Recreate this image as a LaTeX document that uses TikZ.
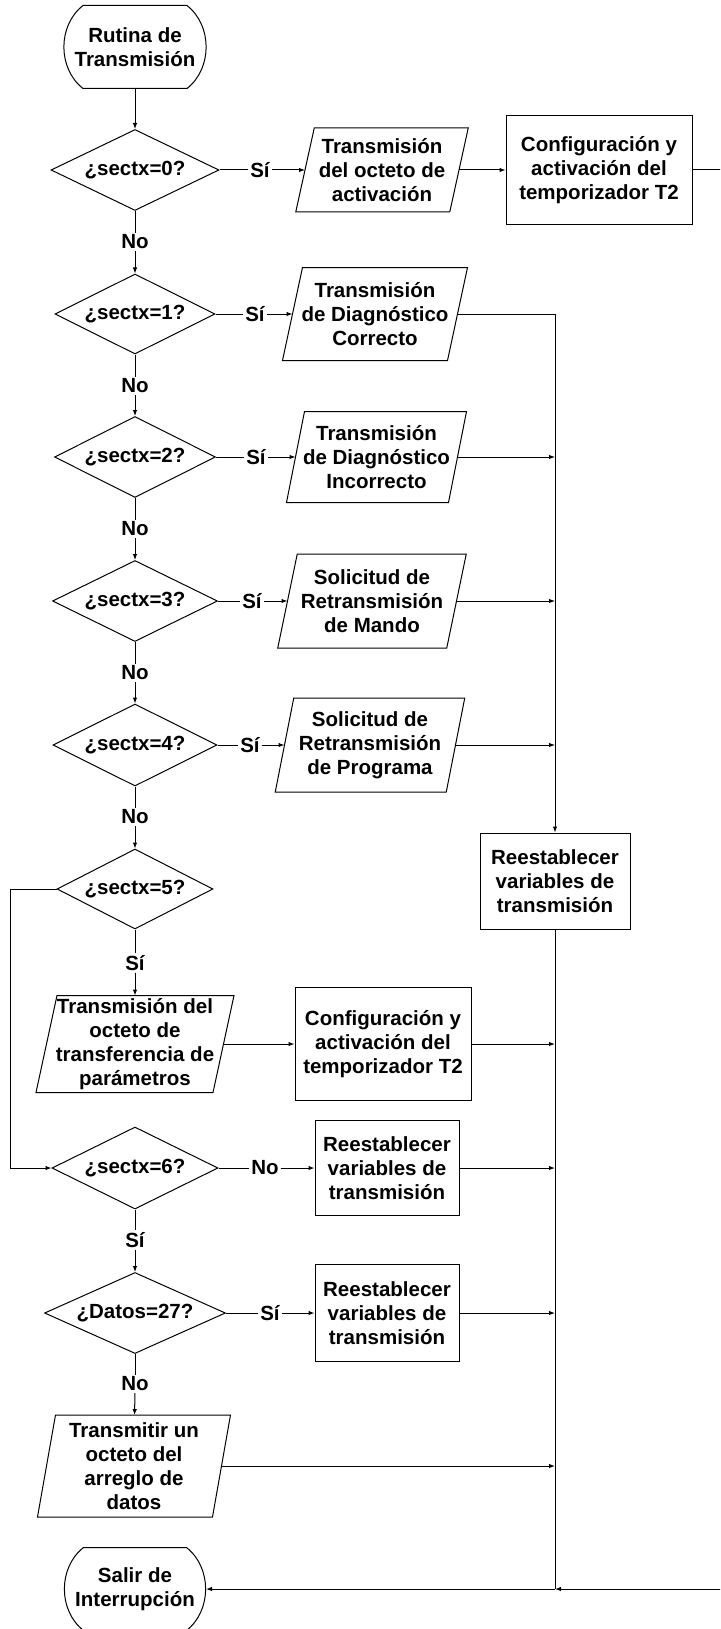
\documentclass[tikz,border=0pt]{standalone}
\usepackage{fontspec}
\setmainfont{Liberation Sans}
\usetikzlibrary{shapes.geometric,arrows.meta,calc}
\newcommand\drawpara[2]{\draw ([xshift=#2]#1.north west) -- ([xshift=#2]#1.north east) -- ([xshift=-#2]#1.south east) -- ([xshift=-#2]#1.south west) -- cycle;}
\newcommand\drawterm[2]{\draw ([xshift=#2]#1.north west) -- ([xshift=-#2]#1.north east) .. controls ([xshift=6pt,yshift=-20pt]#1.north east) and ([xshift=6pt,yshift=20pt]#1.south east) .. ([xshift=-#2]#1.south east) -- ([xshift=#2]#1.south west) .. controls ([xshift=-6pt,yshift=20pt]#1.south west) and ([xshift=-6pt,yshift=-20pt]#1.north west) .. ([xshift=#2]#1.north west) -- cycle;}
\tikzset{
  base/.style={font=\fontsize{20.5}{24}\selectfont\bfseries, inner sep=0pt, align=center},
  decision/.style={base, shape=diamond, draw, aspect=2},
  proc/.style={base, draw, rectangle},
  iobox/.style={base, rectangle},
  term/.style={base, rectangle, minimum width=142pt, minimum height=82pt},
  lbl/.style={base, inner sep=1.5pt},
  arr/.style={-{Latex[length=6pt,width=4.5pt]}}
}
\begin{document}
\begin{tikzpicture}[x=1pt,y=-1pt,line width=1pt]
\useasboundingbox (0,0) rectangle (720,1629);
\fill[white] (0,0) rectangle (720,1629);
\clip (0,0) rectangle (720,1629);
% column
\node[term] (t0) at (135,47) {Rutina de\\Transmisión};
\node[decision, minimum width=168pt, minimum height=81pt] (d0) at (135,170) {¿sectx=0?};
\node[lbl] (s0) at (260,170) {Sí};
\node[iobox, minimum width=153pt, minimum height=83pt] (p0) at (382,170) {Transmisión\\del octeto de\\activación};
\node[proc, minimum width=186pt, minimum height=109pt] (c0) at (599,170) {Configuración y\\activación del\\temporizador T2};
\node[lbl] (n0) at (135,242) {No};
\node[decision, minimum width=160pt, minimum height=80pt] (d1) at (135,314) {¿sectx=1?};
\node[lbl] (s1) at (255,314) {Sí};
\node[iobox, minimum width=164pt, minimum height=92pt] (p1) at (375,314) {Transmisión\\de Diagnóstico\\Correcto};
\node[lbl] (n1) at (135,386) {No};
\node[decision, minimum width=161pt, minimum height=81pt] (d2) at (135,457) {¿sectx=2?};
\node[lbl] (s2) at (256,457) {Sí};
\node[iobox, minimum width=161pt, minimum height=90pt] (p2) at (376.5,457) {Transmisión\\de Diagnóstico\\Incorrecto};
\node[lbl] (n2) at (135,529) {No};
\node[decision, minimum width=165pt, minimum height=81pt] (d3) at (135,601) {¿sectx=3?};
\node[lbl] (s3) at (252,601) {Sí};
\node[iobox, minimum width=168pt, minimum height=93pt] (p3) at (372,601) {Solicitud de\\Retransmisión\\de Mando};
\node[lbl] (n3) at (135,673) {No};
\node[decision, minimum width=164pt, minimum height=82pt] (d4) at (135,745) {¿sectx=4?};
\node[lbl] (s4) at (250,745) {Sí};
\node[iobox, minimum width=170pt, minimum height=93pt] (p4) at (370,745) {Solicitud de\\Retransmisión\\de Programa};
\node[lbl] (n4) at (135,817) {No};
\node[decision, minimum width=156pt, minimum height=80pt] (d5) at (135,889) {¿sectx=5?};
\node[proc, minimum width=150pt, minimum height=96pt] (r0) at (555,881) {Reestablecer\\variables de\\transmisión};
\node[lbl] (s5) at (135,963) {Sí};
\node[iobox, minimum width=176pt, minimum height=96pt] (p5) at (135,1044) {Transmisión del\\octeto de\\transferencia de\\parámetros};
\node[proc, minimum width=176pt, minimum height=113pt] (c1) at (383,1044) {Configuración y\\activación del\\temporizador T2};
\node[decision, minimum width=166pt, minimum height=82pt] (d6) at (135,1168) {¿sectx=6?};
\node[lbl] (n6) at (265,1168) {No};
\node[proc, minimum width=144pt, minimum height=95pt] (r1) at (387,1168) {Reestablecer\\variables de\\transmisión};
\node[lbl] (s6) at (135,1240) {Sí};
\node[decision, minimum width=181pt, minimum height=81pt] (d7) at (135,1313) {¿Datos=27?};
\node[lbl] (s7) at (270,1313) {Sí};
\node[proc, minimum width=144pt, minimum height=97pt] (r2) at (387,1313) {Reestablecer\\variables de\\transmisión};
\node[lbl] (n7) at (135,1384) {No};
\node[iobox, minimum width=174pt, minimum height=101pt] (p7) at (134,1466) {Transmitir un\\octeto del\\arreglo de\\datos};
\node[term, minimum width=141pt] (t1) at (135,1589) {Salir de\\Interrupción};
\coordinate (e1) at (730,170);
\coordinate (lp) at (10,1168);
% shapes
\drawterm{t0}{19.5pt}
\drawterm{t1}{19.5pt}
\drawpara{p0}{9.25pt}
\drawpara{p1}{10pt}
\drawpara{p2}{9pt}
\drawpara{p3}{9.75pt}
\drawpara{p4}{9.25pt}
\drawpara{p5}{10.5pt}
\drawpara{p7}{9pt}
% main column
\draw[arr] (t0) -- (d0);
\draw (d0) -- (n0); \draw[arr] (n0) -- (d1);
\draw (d1) -- (n1); \draw[arr] (n1) -- (d2);
\draw (d2) -- (n2); \draw[arr] (n2) -- (d3);
\draw (d3) -- (n3); \draw[arr] (n3) -- (d4);
\draw (d4) -- (n4); \draw[arr] (n4) -- (d5);
\draw (d5) -- (s5); \draw[arr] (s5) -- (p5);
\draw[arr] (d5.west) -| (lp) -- (d6.west);
\draw (d6) -- (s6); \draw[arr] (s6) -- (d7);
\draw (d7) -- (n7); \draw[arr] (n7) -- (p7);
% yes branches
\draw (d0) -- (s0); \draw[arr] (s0) -- (p0); \draw[arr] (p0) -- (c0);
\draw (d1) -- (s1); \draw[arr] (s1) -- (p1);
\draw (d2) -- (s2); \draw[arr] (s2) -- (p2);
\draw (d3) -- (s3); \draw[arr] (s3) -- (p3);
\draw (d4) -- (s4); \draw[arr] (s4) -- (p4);
\draw[arr] (p5) -- (c1);
\draw (d6) -- (n6); \draw[arr] (n6) -- (r1);
\draw (d7) -- (s7); \draw[arr] (s7) -- (r2);
% collector
\draw (p1) -- (p1 -| r0);
\draw[arr] (p1 -| r0) -- (r0);
\draw[arr] (p2) -- (p2 -| r0);
\draw[arr] (p3) -- (p3 -| r0);
\draw[arr] (p4) -- (p4 -| r0);
\draw[arr] (c1) -- (c1 -| r0);
\draw[arr] (r1) -- (r1 -| r0);
\draw[arr] (r2) -- (r2 -| r0);
\draw[arr] (p7) -- (p7 -| r0);
\draw (r0) -- (t1 -| r0);
\draw[arr] (c0) -- (e1) |- (t1 -| r0);
\draw[arr] (t1 -| r0) -- (t1);
\end{tikzpicture}
\end{document}
